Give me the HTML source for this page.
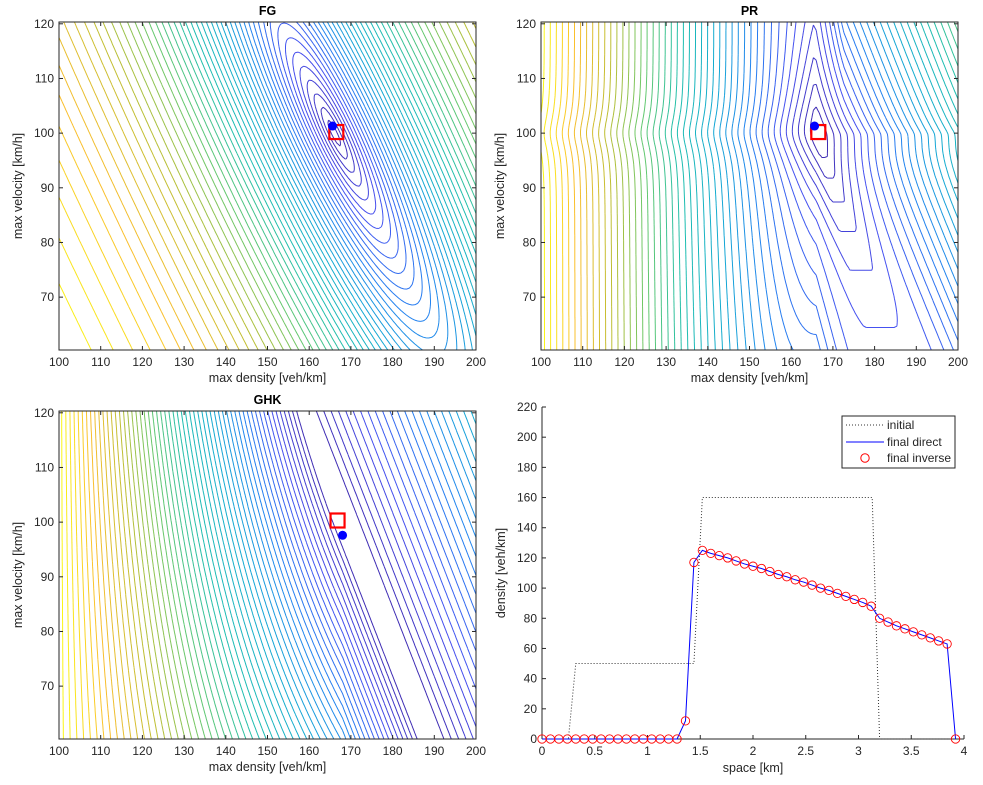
<!DOCTYPE html>
<html><head><meta charset="utf-8">
<style>
body{margin:0;background:#fff;}
svg{display:block;font-family:"Liberation Sans",Arial,sans-serif;}
.tk{font-size:12px;fill:#262626;}
.lab{font-size:12.5px;fill:#262626;}
.ttl{font-size:12.5px;font-weight:bold;fill:#000;}
</style></head>
<body>
<svg id="fig" width="983" height="785" viewBox="0 0 983 785">
<rect width="983" height="785" fill="#fff"/>
</svg>
<script>
// ---- data ----
const fgLevels = [];
for (let i = 0; i < 50; i++) fgLevels.push(0.02 + i * 0.0195);
const prLevels = [];
for (let i = 0; i < 46; i++) prLevels.push(0.02 + i * 0.0215);
const ghkLevels = [];
for (let i = 0; i < 58; i++) ghkLevels.push(0.02 + i * 0.017);
const xTicksContour = [100,110,120,130,140,150,160,170,180,190,200];
const yTicksContour = [70,80,90,100,110,120];
const fgTrue = [166.5, 100.2]; const fgEst = [165.6, 101.3];
const prTrue = [166.5, 100.2]; const prEst = [165.6, 101.3];
const ghkTrue = [166.8, 100.3]; const ghkEst = [168.0, 97.6];

const initialX = [0,0.25,0.32,1.44,1.52,3.13,3.2,3.95];
const initialY = [0,0,50,50,160,160,0,0];
const finalX = [];
for (let i = 0; i <= 49; i++) finalX.push(+(i*0.08).toFixed(2));
const finalY = [0,0,0,0,0,0,0,0,0,0,0,0,0,0,0,0,0,12,117,125,123,121.5,120,118,116,114.5,113,111,109,107.5,105.5,104,102,100,98.5,96.5,94.5,92.5,90.5,88,80,77.5,75,73,71,69,67,65,63,0];
const spaceTicks = [0,0.5,1,1.5,2,2.5,3,3.5,4];
const densTicks = [0,20,40,60,80,100,120,140,160,180,200,220];

const NS = "http://www.w3.org/2000/svg";
const svg = document.getElementById('fig');
function el(tag, attrs, parent){const e=document.createElementNS(NS,tag);for(const k in attrs)e.setAttribute(k,attrs[k]);(parent||svg).appendChild(e);return e;}

const stops=[[0,[62,38,168]],[0.125,[70,80,240]],[0.25,[35,130,240]],[0.375,[20,170,210]],[0.5,[30,190,175]],[0.625,[100,200,110]],[0.75,[190,190,50]],[0.875,[250,190,45]],[1,[250,250,20]]];
function parula(v){v=Math.max(0,Math.min(1,v));for(let i=1;i<stops.length;i++){if(v<=stops[i][0]){const a=stops[i-1],b=stops[i];const t=(v-a[0])/(b[0]-a[0]);const c=a[1].map((x,j)=>Math.round(x+(b[1][j]-x)*t));return `rgb(${c[0]},${c[1]},${c[2]})`;}}return 'rgb(249,251,14)';}

function sp(z){return (z+Math.sqrt(z*z+25))/2-2.5;}
function fFG(x,y){const p=(x-166)/10,q=(y-100)/10;const Q=p*p+0.45*q*q+1.2*p*q;return 1-Math.exp(-Math.sqrt(Math.max(Q,0))/4);}
function fPR(x,y){
  const dy=y-100;
  const sh=sp(-dy);
  const cl=166+0.35*sh*Math.exp(-Math.max(0,166-x)/12), cr=167+0.55*sh;
  const ady=Math.sqrt(dy*dy+4)-2;
  const qs=dy>0?0.45:0.5;
  let px=0;
  if(x<cl) px=cl-x; else if(x>cr) px=0.9*(x-cr);
  const cap=1.5+9.5*Math.exp(-px/5);
  let q=cap*(1-Math.exp(-ady*qs/cap));
  if(x>cr && dy>0){const w=Math.min(px/6,1);q=q+w*(0.45*dy-q);}
  return px+q;
}
function fGHK(x,y){
  const k=Math.max(0,Math.min(1,(x-100)/68));
  const cL=168.5-0.51*(y-100)*k, cR=168.5-0.51*(y-100);
  let d;
  if(x<cL){d=Math.max(0,(cL-x)-1.5)*0.0155;}
  else{d=Math.max(0,(x-cR)-1.5)*0.01;}
  return d;
}

function contourPanel(name,title,L,T,W,H,func,levels,trueP,estP){
  const g=el('g',{});
  const xmin=100,xmax=200,ymin=60.33,ymax=120.33;
  const sx=x=>L+(x-xmin)/(xmax-xmin)*W, sy=y=>T+H-(y-ymin)/(ymax-ymin)*H;
  const clip='clip-'+name;
  const cp=el('clipPath',{id:clip},g);el('rect',{x:L,y:T,width:W,height:H},cp);
  const NX=150,NY=120;const vals=[];let vmax=-1e9;
  for(let j=0;j<=NY;j++){vals.push([]);for(let i=0;i<=NX;i++){const v=func(xmin+(xmax-xmin)*i/NX,ymin+(ymax-ymin)*j/NY);vals[j].push(v);if(v>vmax)vmax=v;}}
  const cg=el('g',{'clip-path':`url(#${clip})`,},g);
  for(const fr of levels){
    const lv=fr*vmax;
    let d='';
    for(let j=0;j<NY;j++)for(let i=0;i<NX;i++){
      const v=[vals[j][i],vals[j][i+1],vals[j+1][i+1],vals[j+1][i]];
      const cx=[i,i+1,i+1,i],cy=[j,j,j+1,j+1];const pts=[];
      for(let k=0;k<4;k++){const a=v[k],b=v[(k+1)%4];if((a<lv)!==(b<lv)){const t=(lv-a)/(b-a);const gx=cx[k]+(cx[(k+1)%4]-cx[k])*t,gy=cy[k]+(cy[(k+1)%4]-cy[k])*t;pts.push([sx(xmin+(xmax-xmin)*gx/NX),sy(ymin+(ymax-ymin)*gy/NY)]);}}
      for(let k=0;k+1<pts.length;k+=2)d+=`M${pts[k][0].toFixed(1)} ${pts[k][1].toFixed(1)}L${pts[k+1][0].toFixed(1)} ${pts[k+1][1].toFixed(1)}`;
    }
    if(d){const p=el('path',{d:d,stroke:parula(fr),'stroke-width':1,fill:'none'},cg);
      
      }
  }
  el('rect',{x:L,y:T,width:W,height:H,fill:'none',stroke:'#262626','stroke-width':1,},g);
  for(const t of xTicksContour){const x=sx(t);el('line',{x1:x,y1:T+H,x2:x,y2:T+H-4,stroke:'#262626'},g);el('line',{x1:x,y1:T,x2:x,y2:T+4,stroke:'#262626'},g);
    const tx=el('text',{x:x,y:T+H+16,'text-anchor':'middle',class:'tk'},g);tx.textContent=t;
    }
  for(const t of yTicksContour){const y=sy(t);el('line',{x1:L,y1:y,x2:L+4,y2:y,stroke:'#262626'},g);el('line',{x1:L+W,y1:y,x2:L+W-4,y2:y,stroke:'#262626'},g);
    const tx=el('text',{x:L-5,y:y+4,'text-anchor':'end',class:'tk'},g);tx.textContent=t;
    }
  const tt=el('text',{x:L+W/2,y:T-7,'text-anchor':'middle',class:'ttl',},g);tt.textContent=title;
  const xl=el('text',{x:L+W/2,y:T+H+32,'text-anchor':'middle',class:'lab',},g);xl.textContent='max density [veh/km]';
  const yl=el('text',{x:0,y:0,'text-anchor':'middle',class:'lab',transform:`translate(${L-37},${T+H/2}) rotate(-90)`,},g);yl.textContent='max velocity [km/h]';
  el('rect',{x:sx(trueP[0])-7,y:sy(trueP[1])-7,width:14,height:14,fill:'none',stroke:'#ff0000','stroke-width':2.2,},g);
  el('circle',{cx:sx(estP[0]),cy:sy(estP[1]),r:4.5,fill:'#0000ff',},g);
}
contourPanel('fg','FG',59,22,417,328,fFG,fgLevels,fgTrue,fgEst);
contourPanel('pr','PR',541,22,417,328,fPR,prLevels,prTrue,prEst);
contourPanel('ghk','GHK',59,411,417,328,fGHK,ghkLevels,ghkTrue,ghkEst);

// ---- density profile panel ----
(function(){
  const g=el('g',{});
  const L=542,B=739,W=422,H=332;
  const sx=x=>L+x/4*W, sy=y=>B-y/220*H;
  el('line',{x1:L,y1:B,x2:L+W,y2:B,stroke:'#262626',},g);
  el('line',{x1:L,y1:B,x2:L,y2:B-H,stroke:'#262626',},g);
  for(const t of spaceTicks){const x=sx(t);el('line',{x1:x,y1:B,x2:x,y2:B-4,stroke:'#262626'},g);
    const tx=el('text',{x:x,y:B+16,'text-anchor':'middle',class:'tk'},g);tx.textContent=t;
    }
  for(const t of densTicks){const y=sy(t);el('line',{x1:L,y1:y,x2:L+4,y2:y,stroke:'#262626'},g);
    const tx=el('text',{x:L-5,y:y+4,'text-anchor':'end',class:'tk'},g);tx.textContent=t;
    }
  const xl=el('text',{x:L+W/2,y:B+33,'text-anchor':'middle',class:'lab',},g);xl.textContent='space [km]';
  const yl=el('text',{x:0,y:0,'text-anchor':'middle',class:'lab',transform:`translate(${L-37},${B-H/2}) rotate(-90)`,},g);yl.textContent='density [veh/km]';
  el('polyline',{points:initialX.map((x,i)=>sx(x)+','+sy(initialY[i])).join(' '),fill:'none',stroke:'#333','stroke-width':1,'stroke-dasharray':'1,2',},g);
  el('polyline',{points:finalX.map((x,i)=>sx(x)+','+sy(finalY[i])).join(' '),fill:'none',stroke:'#0000ff','stroke-width':1,},g);
  finalX.forEach((x,i)=>{const c=el('circle',{cx:sx(x),cy:sy(finalY[i]),r:4.2,fill:'none',stroke:'#ff0000','stroke-width':0.9},g);
    });
  const lg=el('g',{},g);
  el('rect',{x:842,y:416,width:113,height:52,fill:'#fff',stroke:'#262626','stroke-width':1},lg);
  el('line',{x1:846,y1:425,x2:884,y2:425,stroke:'#333','stroke-dasharray':'1,2'},lg);
  el('line',{x1:846,y1:442,x2:884,y2:442,stroke:'#0000ff'},lg);
  el('circle',{cx:865,cy:458,r:4.2,fill:'none',stroke:'#ff0000'},lg);
  [['initial',429],['final direct',446],['final inverse',462]].forEach(([s,y])=>{const t=el('text',{x:887,y:y,class:'tk','font-size':'11.5px'},lg);t.textContent=s;
    });
})();
</script>
</body></html>
